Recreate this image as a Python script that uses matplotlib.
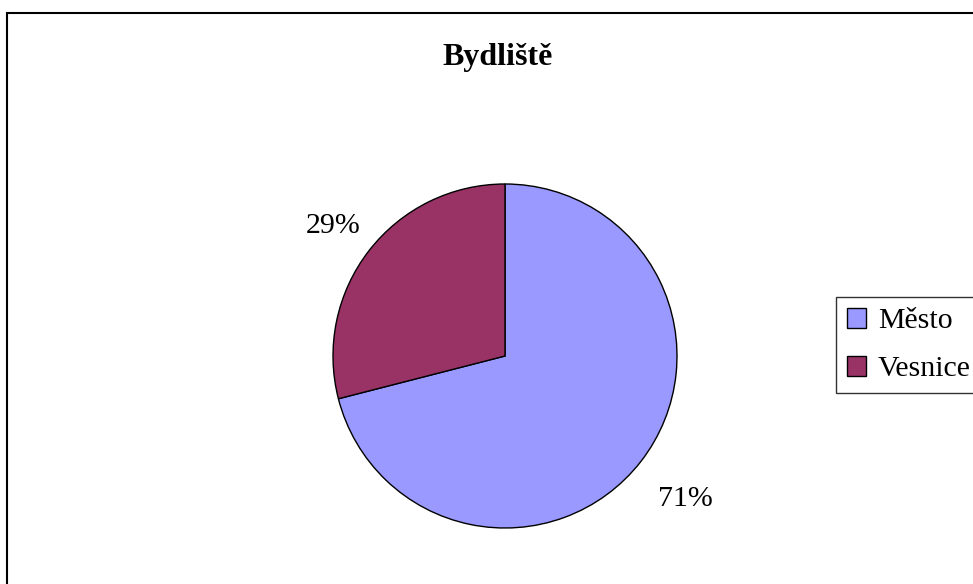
import matplotlib
matplotlib.use("Agg")
import matplotlib.pyplot as plt
from matplotlib.patches import Rectangle
import numpy as np

categories = ["Město", "Vesnice"]
values = [71, 29]
pct_labels = ["71%", "29%"]
colors = ["#9999FF", "#993366"]
title = "Bydliště"

W, H = 973, 584
fig = plt.figure(figsize=(W / 100, H / 100), dpi=100)
plt.rcParams['font.family'] = ['Liberation Serif', 'DejaVu Serif']

# outer frame
fig.patches.append(Rectangle((7 / W, -0.1), 1.2, 1.1 - 13 / H, transform=fig.transFigure,
                             fill=False, edgecolor="black", linewidth=1.5))

ax = fig.add_axes([0, 0, 1, 1])
ax.set_xlim(0, W)
ax.set_ylim(0, H)
ax.set_aspect("equal")
ax.axis("off")

cx, cy, r = 505, H - 356, 172
wedges, _ = ax.pie(values, colors=colors, startangle=90, counterclock=False,
                   center=(cx, cy), radius=r, frame=True,
                   wedgeprops=dict(edgecolor="black", linewidth=1))
ax.set_xlim(0, W)
ax.set_ylim(0, H)
ax.axis("off")

dists = [1.33, 1.265]
for w, lab, d in zip(wedges, pct_labels, dists):
    ang = np.deg2rad((w.theta1 + w.theta2) / 2)
    ax.text(cx + d * r * np.cos(ang), cy + d * r * np.sin(ang), lab,
            ha="center", va="center_baseline", fontsize=21.5)

fig.text(498 / W, 1 - 57 / H, title, ha="center", va="center",
         fontsize=23, fontweight="bold")

leg = fig.legend(wedges, categories, loc="upper left",
                 bbox_to_anchor=(836 / W, 1 - 297 / H), borderaxespad=0,
                 fontsize=21.5, frameon=True, fancybox=False,
                 handlelength=0.64, handleheight=0.64, handletextpad=0.4,
                 labelspacing=0.72, borderpad=0.37)
leg.get_frame().set_edgecolor("black")
leg.get_frame().set_linewidth(1)

fig.savefig("out.png", dpi=100)
